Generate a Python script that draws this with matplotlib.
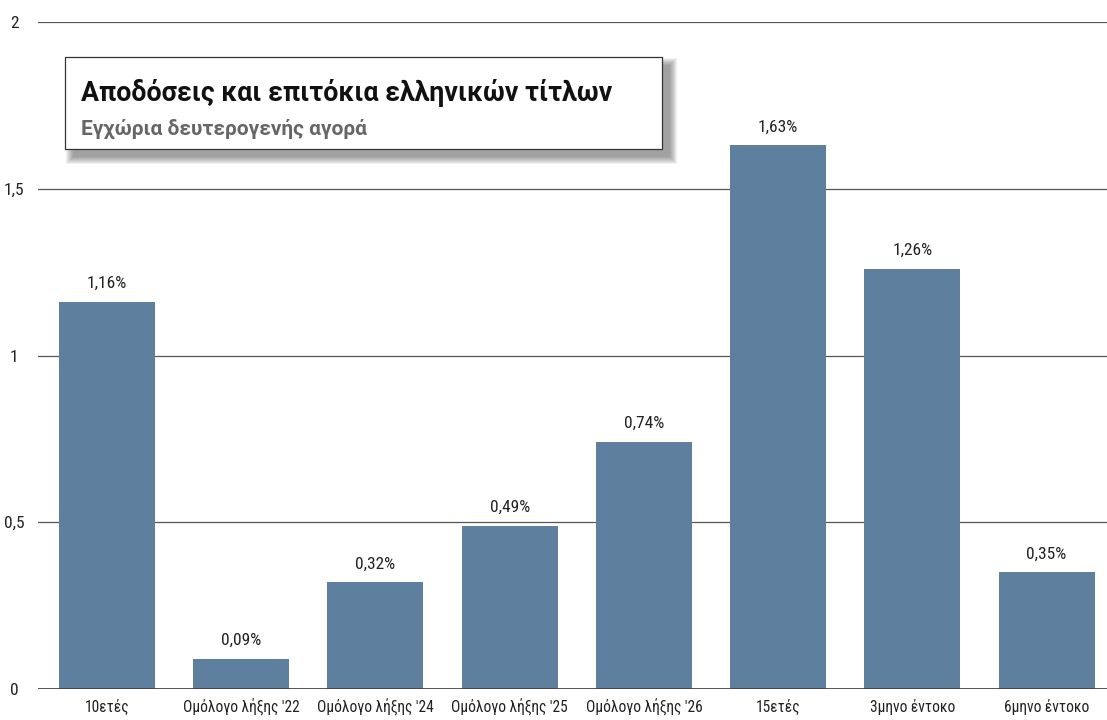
import os
import matplotlib
matplotlib.use("Agg")
import matplotlib.pyplot as plt
from matplotlib.patches import Rectangle
from matplotlib import font_manager
from matplotlib.font_manager import FontProperties

categories = ["10ετές", "Ομόλογο λήξης '22", "Ομόλογο λήξης '24", "Ομόλογο λήξης '25",
              "Ομόλογο λήξης '26", "15ετές", "3μηνο έντοκο", "6μηνο έντοκο"]
values = [1.16, 0.09, 0.32, 0.49, 0.74, 1.63, 1.26, 0.35]
value_labels = ["1,16%", "0,09%", "0,32%", "0,49%", "0,74%", "1,63%", "1,26%", "0,35%"]
yticks = [0, 0.5, 1, 1.5, 2]
ytick_labels = ["0", "0,5", "1", "1,5", "2"]
title = "Αποδόσεις και επιτόκια ελληνικών τίτλων"
subtitle = "Εγχώρια δευτερογενής αγορά"

files = [f.fname for f in font_manager.fontManager.ttflist]


def find(candidates):
    for inc, exc in candidates:
        for p in files:
            b = os.path.basename(p).lower().replace("-", "").replace("_", "")
            if all(c in b for c in inc) and not any(c in b for c in exc):
                return p
    return None


reg = find([(["robotocondensed"], ["bold", "italic", "light", "medium", "black", "thin"]),
            (["dejavusanscondensed"], ["bold", "oblique"])])
bold = find([(["roboto", "bold"], ["condensed", "italic", "semi", "extra", "mono", "slab", "flex", "serif"]),
             (["robotocondensed", "bold"], ["italic", "semi", "extra"]),
             (["dejavusansbold"], ["oblique", "condensed", "mono"])])


def fp(path, size, weight=None):
    if path:
        return FontProperties(fname=path, size=size)
    return FontProperties(family="DejaVu Sans", size=size, stretch="condensed",
                          weight=weight or "normal")


W, H = 1107, 720
fig = plt.figure(figsize=(W / 100, H / 100), dpi=100)
ax = fig.add_axes([38 / W, 31 / H, 1 - 38 / W, (689 - 22) / H])

bar_color = "#5f7f9e"
x = list(range(len(categories)))
ax.bar(x, values, width=0.715, color=bar_color, zorder=3)
for xi, v, lab in zip(x, values, value_labels):
    ax.annotate(lab, (xi, v), xytext=(0, 10), textcoords="offset points",
                ha="center", va="baseline", fontproperties=fp(reg, 12.5), color="#222222")

ax.set_xlim(-0.514, 7.45)
ax.set_ylim(0, 2)
ax.set_yticks(yticks)
ax.set_yticklabels(ytick_labels, color="#222222")
for t in ax.get_yticklabels():
    t.set_fontproperties(fp(reg, 12.5))
    t.set_horizontalalignment("center")
ax.tick_params(axis="y", length=0, pad=17)
ax.set_xticks(x)
ax.set_xticklabels(categories, color="#222222")
for t in ax.get_xticklabels():
    t.set_fontproperties(fp(reg, 11.2))
ax.tick_params(axis="x", length=0, pad=7)

for y in yticks[1:]:
    ax.axhline(y, color="#555555", lw=0.9, zorder=1)
ax.axhline(0, color="#444444", lw=2, zorder=4)
for s in ax.spines.values():
    s.set_visible(False)

# title box with soft shadow (right and bottom)
bx0, by0, bx1, by1 = 65, 57, 662, 149
off = 8
for r in range(7, -1, -1):
    fig.patches.append(Rectangle(((bx0 + off - r) / W, 1 - (by1 + off + r) / H),
                                 (bx1 - bx0 + 2 * r) / W, (by1 - by0 + 2 * r) / H,
                                 transform=fig.transFigure, facecolor="#333333",
                                 alpha=0.07, edgecolor="none", zorder=5))
fig.patches.append(Rectangle((bx0 / W, 1 - by1 / H), (bx1 - bx0) / W, (by1 - by0) / H,
                             transform=fig.transFigure, facecolor="white",
                             edgecolor="#333333", lw=0.9, zorder=6))
fig.text(81 / W, 1 - 101 / H, title, fontproperties=fp(bold, 19.3, "bold"), color="#111111",
         va="baseline", ha="left", zorder=7)
fig.text(81 / W, 1 - 135 / H, subtitle, fontproperties=fp(bold, 15, "bold"), color="#666666",
         va="baseline", ha="left", zorder=7)

fig.savefig("out.png", dpi=100)
